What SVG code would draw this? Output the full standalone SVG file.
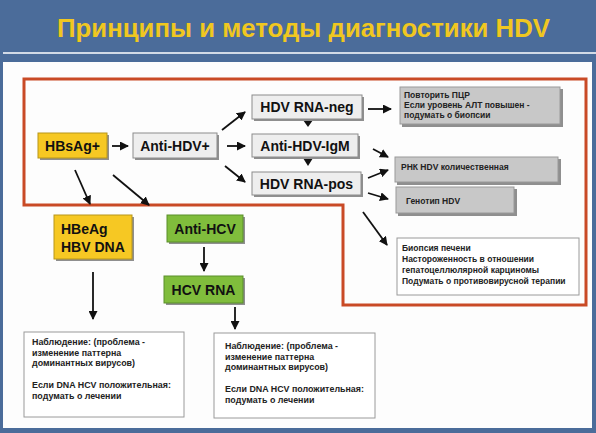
<svg xmlns="http://www.w3.org/2000/svg" width="596" height="433" viewBox="0 0 596 433">
<style>
.bg{fill:#4b6c9a}
.big{font-family:"Liberation Sans",Arial,sans-serif;font-weight:bold;font-size:14px;fill:#111}
.sm{font-family:"Liberation Sans",Arial,sans-serif;font-weight:bold;font-size:8.5px;fill:#222}
.sm9{font-family:"Liberation Sans",Arial,sans-serif;font-weight:bold;font-size:8.9px;fill:#222}
.lg{fill:#eeeeee;stroke:#8c8c8c;stroke-width:1}
.yl{fill:#f6c823;stroke:#b8961a;stroke-width:1}
.gr{fill:#80bd3c;stroke:#5b8f2a;stroke-width:1}
.gy{fill:#c8c8c8;stroke:#9a9a9a;stroke-width:1}
.wh{fill:#ffffff;stroke:#9a9a9a;stroke-width:1}
.sh{fill:#8f8f8f}
.ar{stroke:#111;stroke-width:1.8;fill:none;marker-end:url(#ah)}
</style>
<defs>
<marker id="ah" markerUnits="userSpaceOnUse" markerWidth="9" markerHeight="9" refX="8" refY="4.5" orient="auto">
<path d="M0,0 L9,4.5 L0,9 Z" fill="#111"/>
</marker>
</defs>
<rect class="bg" x="0" y="0" width="596" height="433"/>
<text x="57" y="37" font-family="'Liberation Sans',Arial,sans-serif" font-weight="bold" font-size="25" fill="#f0c720" textLength="493" lengthAdjust="spacingAndGlyphs">Принципы и методы диагностики HDV</text>
<line x1="3" y1="53" x2="596" y2="53" stroke="#ffffff" stroke-width="1.5"/>
<rect x="3" y="62" width="589" height="366" fill="#fdfdfd"/>
<path d="M24,79 H586 V305 H343 V205 H24 Z" fill="none" stroke="#c94a26" stroke-width="3"/>

<g id="connectors">
<line class="ar" x1="112" y1="146" x2="128" y2="146"/>
<line class="ar" x1="222" y1="130" x2="245" y2="112"/>
<line class="ar" x1="227" y1="146" x2="245" y2="146"/>
<line class="ar" x1="225" y1="166" x2="245" y2="182"/>
<path d="M303,120 H313 L308,127 Z" fill="#111"/>
<path d="M303,158 H313 L308,166 Z" fill="#111"/>
<line class="ar" x1="75" y1="170" x2="90" y2="204"/>
<line class="ar" x1="113" y1="175" x2="149" y2="205"/>
<line class="ar" x1="368" y1="109" x2="391" y2="109"/>
<line class="ar" x1="373" y1="149" x2="388" y2="157"/>
<line class="ar" x1="368" y1="178" x2="388" y2="170"/>
<line class="ar" x1="368" y1="193" x2="388" y2="199"/>
<line class="ar" x1="363" y1="212" x2="387" y2="245"/>
<line class="ar" x1="204" y1="247" x2="204" y2="271"/>
<line class="ar" x1="93" y1="272" x2="93" y2="319"/>
<line class="ar" x1="235" y1="307" x2="235" y2="329"/>
</g>

<g id="hbsag">
<rect class="sh" x="40" y="135" width="69" height="25"/>
<rect class="yl" x="38" y="133" width="69" height="25"/>
<text class="big" x="72.5" y="151" text-anchor="middle">HBsAg+</text>
</g>
<g id="antihdv">
<rect class="sh" x="135" y="135" width="84" height="25"/>
<rect class="lg" x="133" y="133" width="84" height="25"/>
<text class="big" x="175" y="151" text-anchor="middle">Anti-HDV+</text>
</g>
<g id="rnaneg">
<rect class="sh" x="254" y="97" width="110" height="24"/>
<rect class="lg" x="252" y="95" width="110" height="24"/>
<text class="big" x="307" y="112" text-anchor="middle">HDV RNA-neg</text>
</g>
<g id="igm">
<rect class="sh" x="254" y="136" width="106" height="23"/>
<rect class="lg" x="252" y="134" width="106" height="23"/>
<text class="big" x="305" y="151" text-anchor="middle">Anti-HDV-IgM</text>
</g>
<g id="rnapos">
<rect class="sh" x="254" y="174" width="109" height="23"/>
<rect class="lg" x="252" y="172" width="109" height="23"/>
<text class="big" x="306.5" y="189" text-anchor="middle">HDV RNA-pos</text>
</g>
<g id="repeat">
<rect class="sh" x="402" y="89" width="161" height="38"/>
<rect class="gy" x="400" y="87" width="160" height="37"/>
<text class="sm" x="404" y="98">Повторить ПЦР</text>
<text class="sm" x="404" y="108">Если уровень АЛТ повышен -</text>
<text class="sm" x="404" y="118">подумать о биопсии</text>
</g>
<g id="rnaquant">
<rect class="sh" x="397" y="159" width="164" height="26"/>
<rect class="gy" x="395" y="157" width="163" height="25"/>
<text class="sm" x="401" y="170">РНК HDV количественная</text>
</g>
<g id="genotype">
<rect class="sh" x="398" y="189" width="119" height="27"/>
<rect class="gy" x="396" y="187" width="118" height="26"/>
<text class="sm" x="406" y="204">Генотип HDV</text>
</g>
<g id="biopsy">
<rect class="wh" x="397" y="238" width="182" height="57"/>
<text class="sm" x="402" y="251">Биопсия печени</text>
<text class="sm" x="402" y="262">Настороженность в отношении</text>
<text class="sm" x="402" y="273">гепатоцеллюлярной карциномы</text>
<text class="sm" x="402" y="284">Подумать о противовирусной терапии</text>
</g>
<g id="hbeag">
<rect class="sh" x="56" y="217" width="78" height="44"/>
<rect class="yl" x="54" y="215" width="78" height="44"/>
<text class="big" x="61" y="234">HBeAg</text>
<text class="big" x="61" y="252">HBV DNA</text>
</g>
<g id="antihcv">
<rect class="sh" x="169" y="217" width="76" height="27"/>
<rect class="gr" x="167" y="215" width="76" height="27"/>
<text class="big" x="205" y="234" text-anchor="middle">Anti-HCV</text>
</g>
<g id="hcvrna">
<rect class="sh" x="166" y="278" width="79" height="27"/>
<rect class="gr" x="164" y="276" width="79" height="27"/>
<text class="big" x="203.5" y="295" text-anchor="middle">HCV RNA</text>
</g>
<g id="obs1">
<rect class="wh" x="24" y="332" width="160" height="85"/>
<text class="sm9" x="32" y="345">Наблюдение: (проблема -</text>
<text class="sm9" x="32" y="356">изменение паттерна</text>
<text class="sm9" x="32" y="366">доминантных вирусов)</text>
<text class="sm9" x="32" y="388">Если DNA HCV положительная:</text>
<text class="sm9" x="32" y="399">подумать о лечении</text>
</g>
<g id="obs2">
<rect class="wh" x="214" y="333" width="161" height="85"/>
<text class="sm9" x="225" y="349">Наблюдение: (проблема -</text>
<text class="sm9" x="225" y="360">изменение паттерна</text>
<text class="sm9" x="225" y="370">доминантных вирусов)</text>
<text class="sm9" x="225" y="392">Если DNA HCV положительная:</text>
<text class="sm9" x="225" y="403">подумать о лечении</text>
</g>
</svg>
